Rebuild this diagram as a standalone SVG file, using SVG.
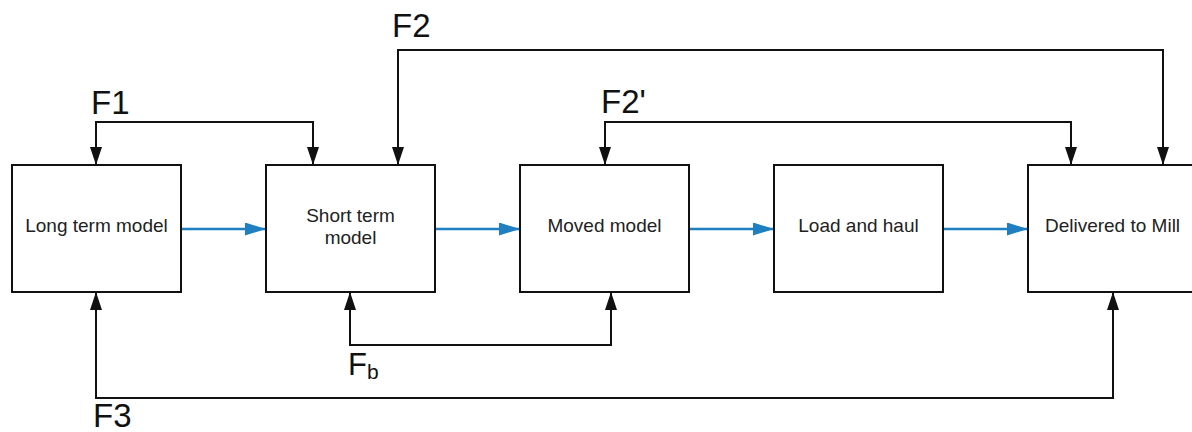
<svg xmlns="http://www.w3.org/2000/svg" width="1192" height="432" viewBox="0 0 1192 432">
  <defs>
    <style>
      .box { fill: #ffffff; stroke: #111111; stroke-width: 2; }
      .lbl { font-family: "Liberation Sans", Arial, sans-serif; font-size: 19px; fill: #222222; text-anchor: middle; }
      .tag { font-family: "Liberation Sans", Arial, sans-serif; font-size: 33px; fill: #111111; }
      .fb { fill: none; stroke: #111111; stroke-width: 2; marker-start: url(#head); marker-end: url(#head); }
      .flow { fill: none; stroke: #1f7fc1; stroke-width: 2.5; marker-end: url(#bluehead); }
    </style>
    <marker id="head" markerUnits="userSpaceOnUse" markerWidth="18" markerHeight="12" refX="18" refY="6" orient="auto-start-reverse">
      <path d="M0,0 L18,6 L0,12 z" fill="#111111"/>
    </marker>
    <marker id="bluehead" markerUnits="userSpaceOnUse" markerWidth="21" markerHeight="13" refX="21" refY="6.5" orient="auto">
      <path d="M0,0 L21,6.5 L0,13 z" fill="#1f7fc1"/>
    </marker>
  </defs>

  <rect width="1192" height="432" fill="#ffffff"/>

  <!-- connectors -->
  <g id="connectors">
    <path class="flow" d="M181,229 H266"/>
    <path class="flow" d="M435,229 H520"/>
    <path class="flow" d="M689,229 H774"/>
    <path class="flow" d="M943,229 H1028"/>
    <path class="fb" d="M96,165 V122 H313 V165"/>
    <path class="fb" d="M398,165 V50 H1163 V165"/>
    <path class="fb" d="M605,165 V122 H1071 V165"/>
    <path class="fb" d="M350,292 V345 H611 V292"/>
    <path class="fb" d="M96,292 V398 H1113 V292"/>
  </g>

  <!-- feedback labels -->
  <g id="labels">
    <text class="tag" x="91" y="114">F1</text>
    <text class="tag" x="392" y="37">F2</text>
    <text class="tag" x="601" y="113">F2'</text>
    <text class="tag" x="348" y="375" style="font-size:31px">F<tspan dy="4" style="font-size:21px">b</tspan></text>
    <text class="tag" x="93" y="427">F3</text>
  </g>

  <g id="long-term">
    <rect class="box" x="12" y="165" width="169" height="127"/>
    <text class="lbl" x="96.5" y="232">Long term model</text>
  </g>
  <g id="short-term">
    <rect class="box" x="266" y="165" width="169" height="127"/>
    <text class="lbl" x="350.5" y="222">Short term</text>
    <text class="lbl" x="350.5" y="244">model</text>
  </g>
  <g id="moved">
    <rect class="box" x="520" y="165" width="169" height="127"/>
    <text class="lbl" x="604.5" y="232">Moved model</text>
  </g>
  <g id="load-haul">
    <rect class="box" x="774" y="165" width="169" height="127"/>
    <text class="lbl" x="858.5" y="232">Load and haul</text>
  </g>
  <g id="mill">
    <rect class="box" x="1028" y="165" width="169" height="127"/>
    <text class="lbl" x="1112.5" y="232">Delivered to Mill</text>
  </g>
</svg>
